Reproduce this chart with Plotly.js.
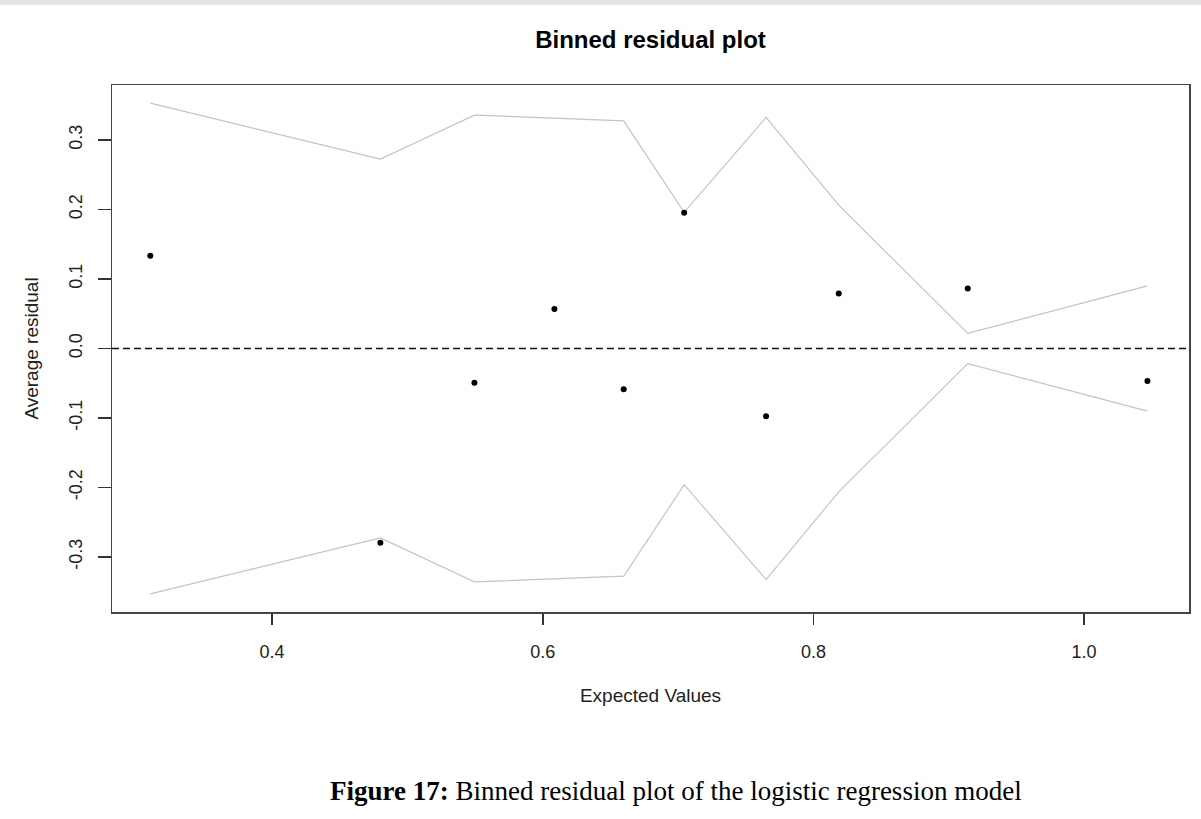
<!DOCTYPE html>
<html>
<head>
<meta charset="utf-8">
<script src="https://cdn.plot.ly/plotly-3.0.1.min.js"></script>
<style>
  html, body { margin: 0; padding: 0; background: #fff; }
  #topbar { position: absolute; left: 0; top: 0; width: 1201px; height: 5px; background: #e4e4e4; z-index: 5; }
  #chart { position: absolute; left: 0; top: 0; width: 1201px; height: 819px; }
</style>
</head>
<body>
<div id="topbar"></div>
<div id="chart"></div>
<script>
// Bin means of expected values (x) and average residuals (y)
const expectedValues = [0.310, 0.480, 0.5495, 0.6086, 0.6598, 0.7045, 0.765, 0.8187, 0.914, 1.0468];
const averageResidual = [0.1334, -0.2796, -0.0494, 0.0567, -0.0588, 0.1953, -0.0973, 0.0793, 0.0865, -0.0469];
// +/- 2 SE bounds
const upperBound = [0.3531, 0.2725, 0.3358, 0.3315, 0.3276, 0.1960, 0.3325, 0.2063, 0.0217, 0.0902];
const lowerBound = [-0.3531, -0.2725, -0.3358, -0.3315, -0.3276, -0.1960, -0.3325, -0.2063, -0.0217, -0.0902];
const xTicks = [0.4, 0.6, 0.8, 1.0];
const xTickText = ["0.4", "0.6", "0.8", "1.0"];
const yTicks = [-0.3, -0.2, -0.1, 0.0, 0.1, 0.2, 0.3];
const yTickText = ["-0.3", "-0.2", "-0.1", "0.0", "0.1", "0.2", "0.3"];

const traces = [
  { x: expectedValues, y: upperBound, type: 'scatter', mode: 'lines',
    line: { color: '#c4c4c4', width: 1.2 }, hoverinfo: 'skip', showlegend: false },
  { x: expectedValues, y: lowerBound, type: 'scatter', mode: 'lines',
    line: { color: '#c4c4c4', width: 1.2 }, hoverinfo: 'skip', showlegend: false },
  { x: expectedValues, y: averageResidual, type: 'scatter', mode: 'markers',
    marker: { color: '#000', size: 6 }, showlegend: false }
];

const tickFont = { family: 'Liberation Sans, Arial, sans-serif', size: 18, color: '#222' };
const titleFont = { family: 'Liberation Sans, Arial, sans-serif', size: 19, color: '#222' };

const layout = {
  width: 1201, height: 819,
  margin: { l: 112, r: 12, t: 85, b: 207 },
  paper_bgcolor: '#fff', plot_bgcolor: '#fff',
  showlegend: false,
  title: { text: '<b>Binned residual plot</b>', x: 0.5, xref: 'paper', y: 1 - 40/819, yanchor: 'middle',
           font: { family: 'Liberation Sans, Arial, sans-serif', size: 24, color: '#000' } },
  xaxis: {
    range: [0.2817, 1.0775], autorange: false,
    tickmode: 'array', tickvals: xTicks, ticktext: xTickText,
    ticks: 'outside', ticklen: 11, tickwidth: 1.5, tickcolor: '#333',
    ticklabelstandoff: 12,
    showline: true, mirror: true, linecolor: '#444', linewidth: 1.5,
    showgrid: false, zeroline: false,
    tickfont: tickFont,
    title: { text: 'Expected Values', font: titleFont, standoff: 27 }
  },
  yaxis: {
    range: [-0.3791, 0.3791], autorange: false,
    tickmode: 'array', tickvals: yTicks, ticktext: yTickText,
    ticks: 'outside', ticklen: 13, tickwidth: 1.5, tickcolor: '#333',
    tickangle: -90, ticklabelstandoff: 8,
    showline: true, mirror: true, linecolor: '#444', linewidth: 1.5,
    showgrid: false, zeroline: false,
    tickfont: tickFont,
    title: { text: 'Average residual', font: titleFont, standoff: 22 }
  },
  shapes: [
    { type: 'line', xref: 'paper', x0: 0, x1: 1, yref: 'y', y0: 0, y1: 0,
      line: { color: '#111', width: 1.5, dash: '7px,4px' } }
  ],
  annotations: [
    { text: '<b>Figure 17:</b> Binned residual plot of the logistic regression model',
      xref: 'paper', yref: 'paper', x: (676 - 112) / 1077, y: (612 - 791) / 527,
      xanchor: 'center', yanchor: 'middle', showarrow: false,
      font: { family: 'Liberation Serif, Times New Roman, serif', size: 27, color: '#000' } }
  ]
};

Plotly.newPlot('chart', traces, layout, { displayModeBar: false, staticPlot: true });
</script>
</body>
</html>
